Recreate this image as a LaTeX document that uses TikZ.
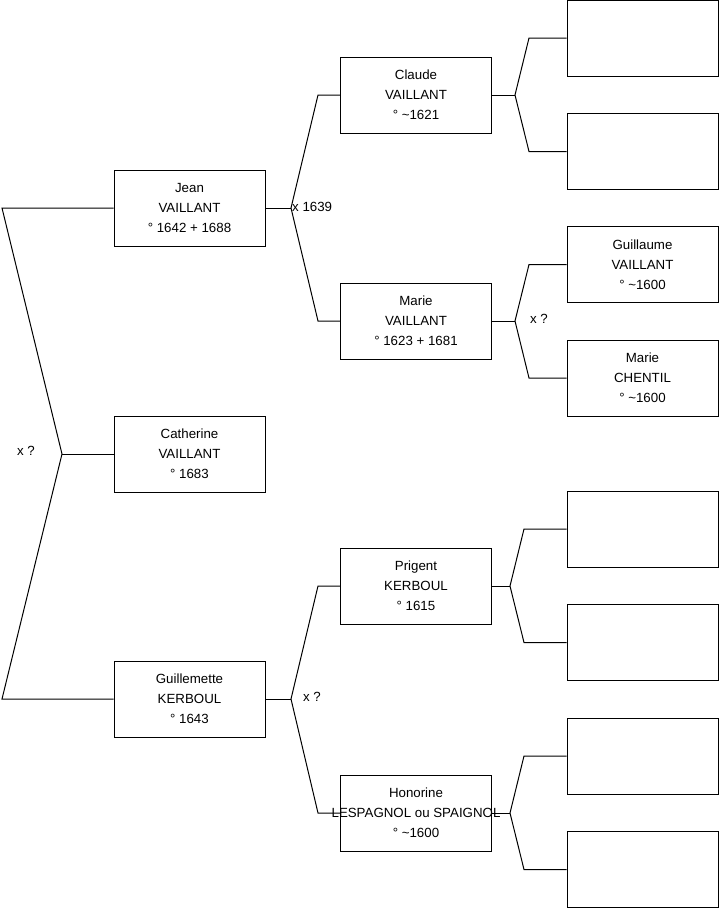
\documentclass[tikz,border=0pt]{standalone}
\usepackage{fontspec}
\setmainfont{Liberation Sans}
\begin{document}
\begin{tikzpicture}[x=1pt,y=-1pt,
  person/.style={draw=black,line width=1pt,minimum width=151pt,minimum height=76pt,inner sep=0pt,align=center,font=\fontsize{13.3}{20}\selectfont},
  conn/.style={draw=black,line width=1pt},
  lbl/.style={inner sep=0pt,font=\fontsize{13.3}{16}\selectfont}]
\useasboundingbox (0,0) rectangle (719,908);
% generation 1
\node[person] (jean) at (189.5,208) {Jean\\VAILLANT\\° 1642 + 1688};
\node[person] (cath) at (189.5,454) {Catherine\\VAILLANT\\° 1683};
\node[person] (guil) at (189.5,699) {Guillemette\\KERBOUL\\° 1643};
% generation 2
\node[person] (claude) at (416,95) {Claude\\VAILLANT\\° \textasciitilde1621};
\node[person] (marie) at (416,321) {Marie\\VAILLANT\\° 1623 + 1681};
\node[person] (prig) at (416,586) {Prigent\\KERBOUL\\° 1615};
\node[person] (hono) at (416,813) {Honorine\\\makebox[0pt][c]{LESPAGNOL ou SPAIGNOL}\\° \textasciitilde1600};
% generation 3
\node[person] (r1) at (642.5,38) {};
\node[person] (r2) at (642.5,151.5) {};
\node[person] (guillaume) at (642.5,264.5) {Guillaume\\VAILLANT\\° \textasciitilde1600};
\node[person] (mchentil) at (642.5,378) {Marie\\CHENTIL\\° \textasciitilde1600};
\node[person] (r5) at (642.5,529) {};
\node[person] (r6) at (642.5,642.5) {};
\node[person] (r7) at (642.5,756) {};
\node[person] (r8) at (642.5,869.5) {};
% left bracket
\coordinate (la) at (2,208);
\coordinate (lb) at (62,454);
\coordinate (lc) at (2,699);
\draw[conn] (jean.west) -- (la) -- (lb) -- (lc) -- (guil.west);
\draw[conn] (lb) -- (cath.west);
\node[lbl] (xl) at (26,451) {x ?};
% Jean's parents
\coordinate (j0) at (291,208);
\coordinate (j1) at (318,95);
\coordinate (j2) at (318,321);
\draw[conn] (jean.east) -- (j0);
\draw[conn] (claude.west) -- (j1) -- (j0) -- (j2) -- (marie.west);
\node[lbl,anchor=west] (x1639) at (292,207) {x 1639};
% Claude's parents
\coordinate (c0) at (515,95);
\coordinate (c1) at (529,38);
\coordinate (c2) at (529,151.5);
\draw[conn] (claude.east) -- (c0);
\draw[conn] (r1.west) -- (c1) -- (c0) -- (c2) -- (r2.west);
% Marie's parents
\coordinate (m0) at (515,321);
\coordinate (m1) at (529,264.5);
\coordinate (m2) at (529,378);
\draw[conn] (marie.east) -- (m0);
\draw[conn] (guillaume.west) -- (m1) -- (m0) -- (m2) -- (mchentil.west);
\node[lbl] (xm) at (539,319) {x ?};
% Guillemette's parents
\coordinate (g0) at (291,699);
\coordinate (g1) at (318,586);
\coordinate (g2) at (318,813);
\draw[conn] (guil.east) -- (g0);
\draw[conn] (prig.west) -- (g1) -- (g0) -- (g2) -- (hono.west);
\node[lbl] (xg) at (312,697) {x ?};
% Prigent's parents
\coordinate (p0) at (510,586);
\coordinate (p1) at (524,529);
\coordinate (p2) at (524,642.5);
\draw[conn] (prig.east) -- (p0);
\draw[conn] (r5.west) -- (p1) -- (p0) -- (p2) -- (r6.west);
% Honorine's parents
\coordinate (h0) at (510,813);
\coordinate (h1) at (524,756);
\coordinate (h2) at (524,869.5);
\draw[conn] (hono.east) -- (h0);
\draw[conn] (r7.west) -- (h1) -- (h0) -- (h2) -- (r8.west);
\end{tikzpicture}
\end{document}
